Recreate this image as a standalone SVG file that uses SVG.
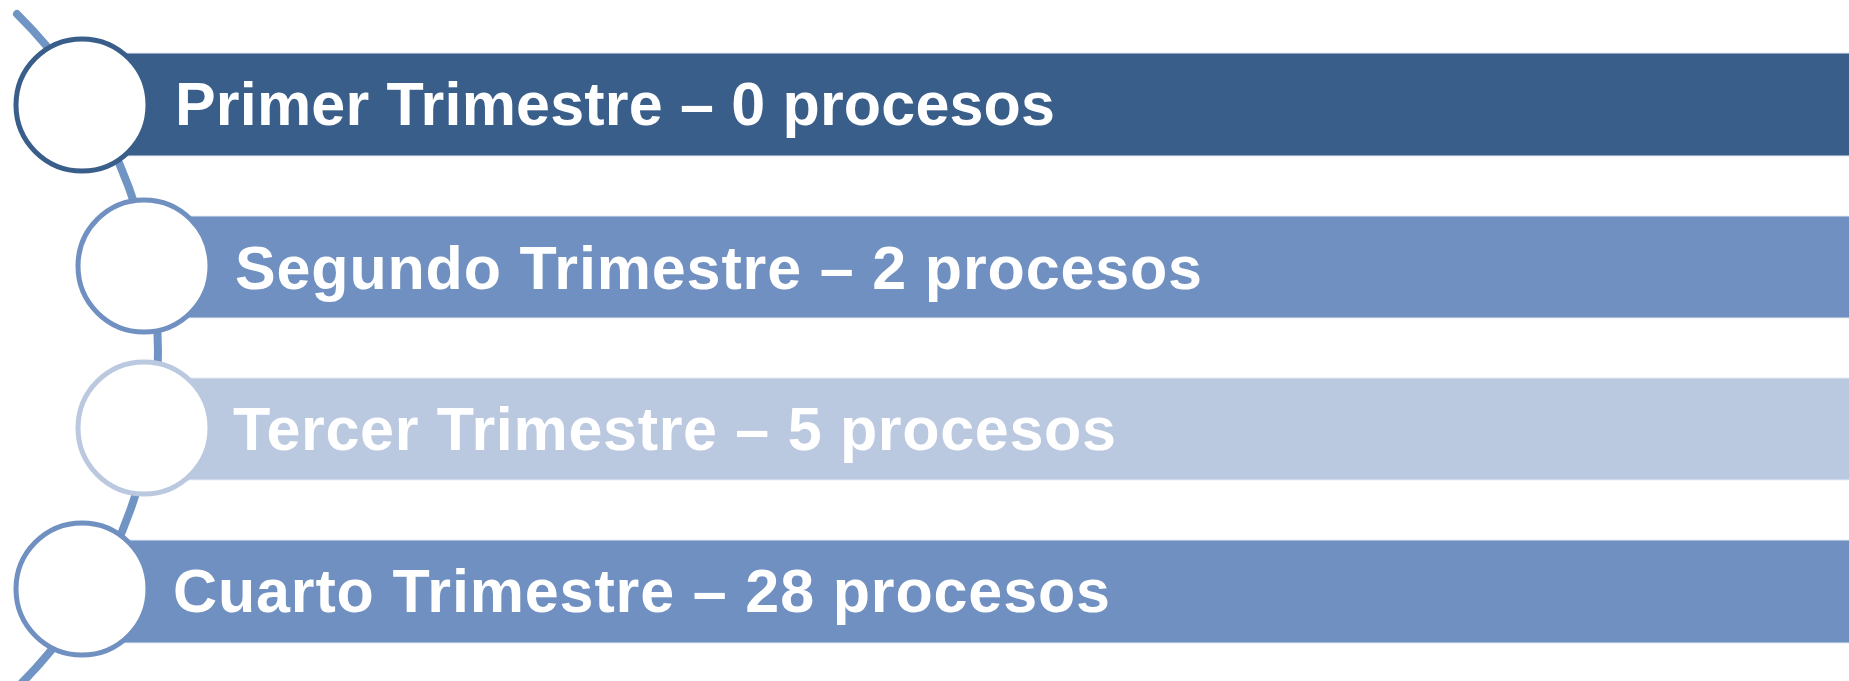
<svg xmlns="http://www.w3.org/2000/svg" width="1849" height="681" viewBox="0 0 1849 681">
<style>
.lbl{font-family:"Liberation Sans",Arial,sans-serif;font-weight:bold;font-size:61px;fill:#ffffff}
.bar{stroke:#e6ecf5;stroke-width:1}
.node{fill:#ffffff;stroke-width:5}
</style>
<rect width="1849" height="681" fill="#ffffff"/>
<g id="connectors">
<path d="M 17 14 A 473 473 0 0 1 4 700" fill="none" stroke="#7094c4" stroke-width="8" stroke-linecap="round"/>
</g>
<g id="node1">
<rect class="bar" x="120" y="53" width="1740" height="103" fill="#3a5e8a"/>
<circle class="node" cx="82" cy="105" r="66" stroke="#3a5e8a"/>
<text class="lbl" x="175" y="125" textLength="880" lengthAdjust="spacing">Primer Trimestre – 0 procesos</text>
</g>
<g id="node2">
<rect class="bar" x="180" y="216" width="1680" height="102" fill="#6f90c0"/>
<circle class="node" cx="144" cy="266" r="66" stroke="#6f90c0"/>
<text class="lbl" x="235" y="289" textLength="967" lengthAdjust="spacing">Segundo Trimestre – 2 procesos</text>
</g>
<g id="node3">
<rect class="bar" x="180" y="378" width="1680" height="102" fill="#bac8e0"/>
<circle class="node" cx="144" cy="428" r="66" stroke="#bac8e0"/>
<text class="lbl" x="233" y="450" textLength="883" lengthAdjust="spacing">Tercer Trimestre – 5 procesos</text>
</g>
<g id="node4">
<rect class="bar" x="120" y="540" width="1740" height="103" fill="#6f90c0"/>
<circle class="node" cx="82" cy="589" r="66" stroke="#6f90c0"/>
<text class="lbl" x="173" y="612" textLength="937" lengthAdjust="spacing">Cuarto Trimestre – 28 procesos</text>
</g>
</svg>
